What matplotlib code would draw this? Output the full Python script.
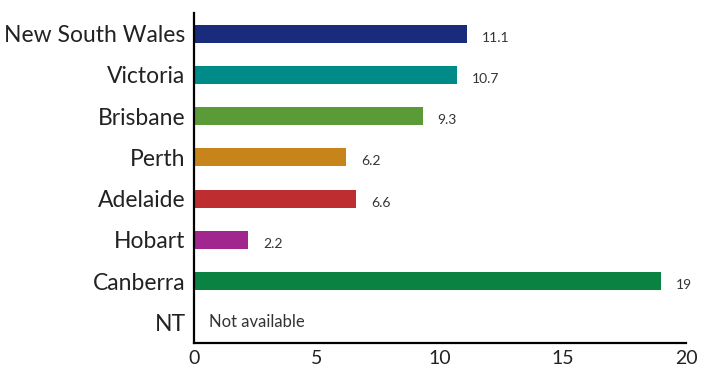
import matplotlib
matplotlib.use("Agg")
import matplotlib.pyplot as plt

regions = ["New South Wales", "Victoria", "Brisbane", "Perth", "Adelaide",
           "Hobart", "Canberra", "NT"]
values = [11.1, 10.7, 9.3, 6.2, 6.6, 2.2, 19, None]
value_labels = ["11.1", "10.7", "9.3", "6.2", "6.6", "2.2", "19", "Not available"]
colors = ["#192b7a", "#008a88", "#5a9a37", "#c7841a", "#be2e30", "#a1278f",
          "#0a8242", "#ffffff"]
xticks = [0, 5, 10, 15, 20]

plt.rcParams['font.family'] = ['Lato', 'DejaVu Sans']

fig = plt.figure(figsize=(7.01, 3.70), dpi=100)
ax = fig.add_axes([0.2767, 0.073, 0.7019, 0.892])

ypos = list(range(len(regions)))
for y, v, c, lab in zip(ypos, values, colors, value_labels):
    if v is None:
        ax.text(0.6, y, lab, va='center', ha='left', fontsize=12, color='#333333')
        continue
    ax.barh(y, v, height=0.44, color=c)
    ax.text(v + 0.6, y + 0.1, lab, va='center', ha='left', fontsize=10,
            color='#333333')

ax.set_ylim(len(regions) - 0.5, -0.5)
ax.set_xlim(0, 20)
ax.set_yticks(ypos)
ax.set_yticklabels(regions, fontsize=16.5, color='#222222')
ax.set_xticks(xticks)
ax.set_xticklabels([str(t) for t in xticks], fontsize=14, color='#222222')
ax.tick_params(length=0, pad=6)
ax.tick_params(axis='x', pad=5)
for s in ['top', 'right']:
    ax.spines[s].set_visible(False)
for s in ['left', 'bottom']:
    ax.spines[s].set_linewidth(1.6)
    ax.spines[s].set_color('black')

fig.savefig('out.png', dpi=100)
